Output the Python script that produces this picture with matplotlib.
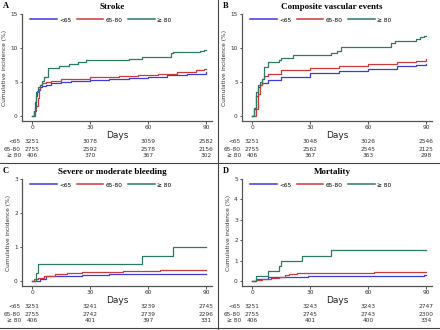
import matplotlib
matplotlib.use("Agg")
import matplotlib.pyplot as plt
from matplotlib.lines import Line2D
import matplotlib.transforms as mtransforms

groups = ["<65", "65-80", "\u2265 80"]
legend_labels = ["<65", "65-80", "\u2265 80"]
colors = ["#3b3be0", "#cc3a3a", "#2c7a66"]
panel_letters = ["A", "B", "C", "D"]
titles = ["Stroke", "Composite vascular events", "Severe or moderate bleeding", "Mortality"]
y_maxes = [15, 15, 3, 5]
y_ticks = [[0, 5, 10, 15], [0, 5, 10, 15], [0, 1, 2, 3], [0, 1, 2, 3, 4, 5]]
risk_days = [0, 30, 60, 90]

# Stroke
a_blue_t = [0, 1, 1.5, 2, 2.5, 3, 4, 5, 7, 10, 15, 20, 30, 40, 50, 60, 70, 80, 90]
a_blue_y = [0, 0.8, 2.0, 3.0, 3.5, 3.8, 4.2, 4.4, 4.6, 4.8, 5.0, 5.1, 5.3, 5.5, 5.6, 5.8, 6.0, 6.2, 6.4]
a_red_t = [0, 1.5, 2, 3, 3.5, 4, 5, 7, 10, 15, 30, 45, 55, 65, 75, 85, 89, 90]
a_red_y = [0, 0.8, 1.5, 2.7, 4.0, 4.5, 4.8, 5.0, 5.2, 5.5, 5.7, 5.9, 6.1, 6.2, 6.5, 6.7, 6.9, 6.9]
a_green_t = [0, 1, 1.5, 2, 2.5, 3, 4, 5, 6, 8, 14, 19, 24, 28, 50, 57, 72, 73, 87, 89, 90]
a_green_y = [0, 0.6, 1.2, 3.5, 3.7, 4.2, 4.5, 5.2, 5.8, 7.0, 7.3, 7.6, 8.0, 8.2, 8.4, 8.7, 9.2, 9.4, 9.6, 9.7, 9.7]

# Composite vascular events
b_blue_t = [0, 1, 2, 3, 4, 5, 8, 15, 30, 45, 60, 75, 85, 90]
b_blue_y = [0, 1.0, 3.0, 4.3, 4.5, 4.8, 5.3, 5.8, 6.3, 6.6, 6.9, 7.3, 7.5, 7.6]
b_red_t = [0, 2, 3, 4, 5, 6, 8, 15, 30, 45, 60, 75, 85, 90]
b_red_y = [0, 1.0, 3.2, 4.6, 5.4, 5.9, 6.2, 6.7, 7.0, 7.3, 7.6, 7.9, 8.1, 8.4]
b_green_t = [0, 1, 2, 3, 4, 5, 6, 8, 14, 15, 21, 41, 44, 46, 72, 74, 85, 87, 89, 90]
b_green_y = [0, 1.2, 3.5, 4.5, 5.0, 5.5, 7.2, 7.9, 8.2, 8.6, 8.9, 9.3, 9.6, 10.2, 10.7, 11.1, 11.3, 11.6, 11.7, 11.7]

# Severe or moderate bleeding
c_blue_t = [0, 4, 7, 26, 40, 90]
c_blue_y = [0, 0.05, 0.15, 0.18, 0.21, 0.21]
c_red_t = [0, 1, 3, 6, 12, 18, 26, 47, 66, 90]
c_red_y = [0, 0.05, 0.1, 0.15, 0.2, 0.24, 0.27, 0.3, 0.33, 0.33]
c_green_t = [0, 2, 3, 57, 73, 90]
c_green_y = [0, 0.25, 0.5, 0.75, 1.0, 1.0]

# Mortality
d_blue_t = [0, 2, 8, 29, 89, 90]
d_blue_y = [0, 0.1, 0.2, 0.25, 0.3, 0.3]
d_red_t = [0, 2, 5, 10, 14, 17, 19, 23, 63, 90]
d_red_y = [0, 0.05, 0.1, 0.15, 0.2, 0.3, 0.35, 0.4, 0.45, 0.45]
d_green_t = [0, 2, 8, 14, 15, 26, 41, 90]
d_green_y = [0, 0.25, 0.5, 0.75, 1.0, 1.25, 1.5, 1.5]

curves = [
    [(a_blue_t, a_blue_y), (a_red_t, a_red_y), (a_green_t, a_green_y)],
    [(b_blue_t, b_blue_y), (b_red_t, b_red_y), (b_green_t, b_green_y)],
    [(c_blue_t, c_blue_y), (c_red_t, c_red_y), (c_green_t, c_green_y)],
    [(d_blue_t, d_blue_y), (d_red_t, d_red_y), (d_green_t, d_green_y)],
]

risk_tables = [
    [[3251, 3078, 3059, 2582], [2755, 2592, 2578, 2156], [406, 370, 367, 302]],
    [[3251, 3048, 3026, 2546], [2755, 2562, 2545, 2125], [406, 367, 363, 298]],
    [[3251, 3241, 3239, 2745], [2755, 2742, 2739, 2296], [406, 401, 397, 331]],
    [[3251, 3243, 3243, 2747], [2755, 2745, 2743, 2300], [406, 401, 400, 334]],
]

W, H = 440, 330
fig = plt.figure(figsize=(W / 100, H / 100), dpi=100)
fig.patch.set_facecolor("white")

spine_col = "#555555"
small = 4.2

for i in range(4):
    col, row = i % 2, i // 2
    x0 = 220 * col
    y0 = 165 * row
    ax = fig.add_axes([(x0 + 22) / W, 1 - (y0 + 121) / H, 190 / W, 107 / H])
    ymax = y_maxes[i]
    for (t, y), c in zip(curves[i], colors):
        ax.step(t, y, where="post", color=c, linewidth=0.9)
    ax.set_xlim(-5.2, 93.1)
    ax.set_ylim(-ymax * 0.049, ymax)
    ax.set_xticks(risk_days)
    ax.set_yticks(y_ticks[i])
    for s in ["top", "right"]:
        ax.spines[s].set_visible(False)
    for s in ["left", "bottom"]:
        ax.spines[s].set_color(spine_col)
        ax.spines[s].set_linewidth(0.9)
    ax.tick_params(labelsize=small, length=1.8, width=0.6, pad=1.2, colors="#333333")
    ax.set_ylabel("Cumulative incidence (%)", fontsize=small, labelpad=2.5, color="#333333")
    ax.set_xlabel("Days", fontsize=6.5, labelpad=0.5, color="#222222")

    handles = [Line2D([], [], color=c, linewidth=1.1) for c in colors]
    ax.legend(handles, legend_labels, loc="center left", bbox_to_anchor=(0.042, 0.944),
              ncol=3, frameon=False, fontsize=small, handlelength=4.6,
              handletextpad=0.4, columnspacing=0.9, borderaxespad=0, borderpad=0)

    # number at risk table
    trans = mtransforms.blended_transform_factory(ax.transData, ax.transAxes)
    row_y = [-0.196, -0.262, -0.327]
    for g, counts, ry in zip(groups, risk_tables[i], row_y):
        ax.text(-5.8, ry, g, transform=trans, fontsize=small, ha="right", va="center",
                color="#333333")
        for d, n in zip(risk_days, counts):
            ax.text(d, ry, str(n), transform=trans, fontsize=small, ha="center",
                    va="center", color="#333333")

    fig.text((x0 + 112) / W, 1 - (y0 + 7) / H, titles[i], fontsize=6.5, fontweight="bold",
             family="Liberation Serif", ha="center", va="center")
    fig.text((x0 + 3) / W, 1 - (y0 + 6) / H, panel_letters[i], fontsize=6,
             fontweight="bold", family="Liberation Serif", ha="left", va="center")

# panel dividers
fig.add_artist(Line2D([218 / W, 218 / W], [0, 1], color="#444444", linewidth=0.8))
fig.add_artist(Line2D([0, 1], [1 - 163 / H, 1 - 163 / H], color="#444444", linewidth=0.8))
fig.add_artist(Line2D([0, 1], [1 - 328 / H, 1 - 328 / H], color="#444444", linewidth=0.8))

fig.savefig("out.png", dpi=100)
